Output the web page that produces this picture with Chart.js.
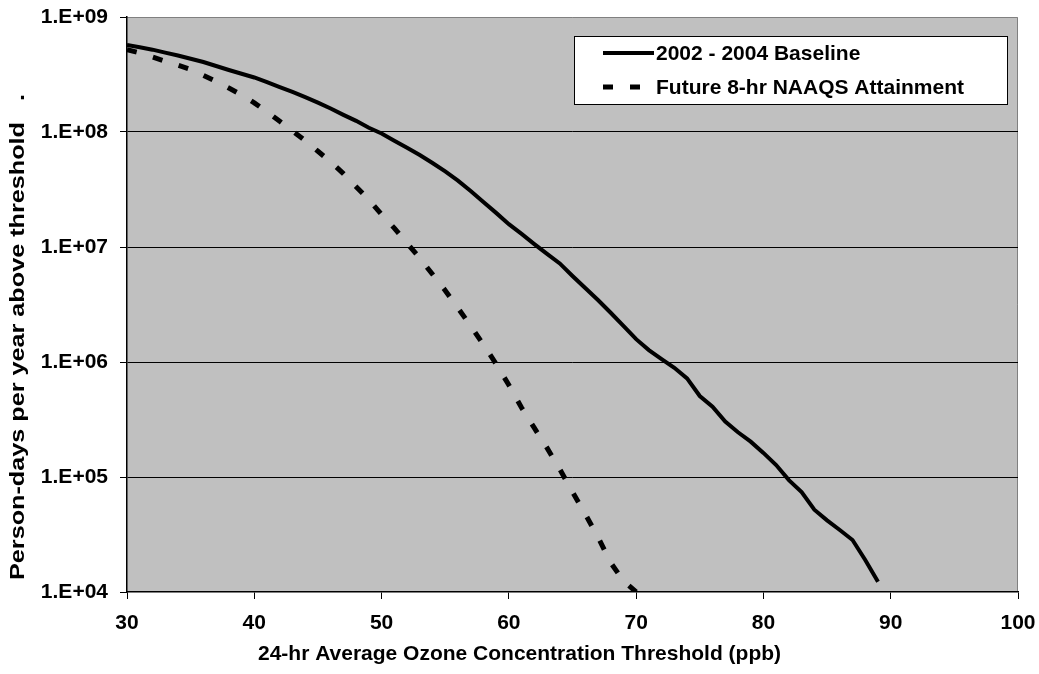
<!DOCTYPE html>
<html>
<head>
<meta charset="utf-8">
<script src="https://cdn.jsdelivr.net/npm/chart.js@4.4.1/dist/chart.umd.min.js"></script>
<style>
  html, body { margin: 0; padding: 0; background: #ffffff; }
  #wrap { width: 1039px; height: 674px; position: relative; }
</style>
</head>
<body>
<div id="wrap"><canvas id="chart" width="1039" height="674"></canvas></div>
<script>
// Threshold (ppb) and person-days per year above that threshold
const baselineThresholds = [30,31,32,33,34,35,36,37,38,39,40,41,42,43,44,45,46,47,48,49,
  50,51,52,53,54,55,56,57,58,59,60,61,62,63,64,65,66,67,68,69,
  70,71,72,73,74,75,76,77,78,79,80,81,82,83,84,85,86,87,88,89];
const baselineValues = [5.7e8,5.45e8,5.2e8,4.9e8,4.63e8,4.33e8,4.06e8,3.75e8,3.46e8,3.21e8,
  2.98e8,2.72e8,2.46e8,2.23e8,2.01e8,1.8e8,1.6e8,1.41e8,1.25e8,1.09e8,
  9.7e7,8.4e7,7.3e7,6.3e7,5.37e7,4.54e7,3.78e7,3.07e7,2.46e7,1.98e7,
  1.58e7,1.3e7,1.06e7,8.7e6,7.2e6,5.6e6,4.4e6,3.46e6,2.68e6,2.06e6,
  1.58e6,1.27e6,1.06e6,8.9e5,7.2e5,5.06e5,4.08e5,3.03e5,2.45e5,2.03e5,
  1.62e5,1.27e5,9.4e4,7.4e4,5.2e4,4.2e4,3.46e4,2.83e4,1.9e4,1.23e4];

const futureThresholds = [30,31,32,33,34,35,36,37,38,39,40,41,42,43,44,45,46,47,48,49,
  50,51,52,53,54,55,56,57,58,59,60,61,62,63,64,65,66,67,68,69,70];
const futureValues = [5.2e8,4.87e8,4.49e8,4.13e8,3.81e8,3.5e8,3.1e8,2.75e8,2.41e8,2.1e8,
  1.79e8,1.5e8,1.24e8,1.02e8,8.4e7,6.8e7,5.5e7,4.35e7,3.34e7,2.58e7,
  1.92e7,1.46e7,1.08e7,8.0e6,5.8e6,4.19e6,2.95e6,2.06e6,1.42e6,9.6e5,
  6.3e5,4.0e5,2.67e5,1.79e5,1.17e5,7.4e4,4.77e4,3.0e4,1.8e4,1.25e4,1.0e4];

const seriesLabels = ['2002 - 2004 Baseline', 'Future 8-hr NAAQS Attainment'];
const xTickValues = [30,40,50,60,70,80,90,100];
const yTickValues = [1e4,1e5,1e6,1e7,1e8,1e9];
const xAxisTitle = '24-hr Average Ozone Concentration Threshold (ppb)';
const yAxisTitle = 'Person-days per year above threshold   .';

const FONT_FAMILY = '"Liberation Sans", Arial, Helvetica, sans-serif';

function toPoints(xs, ys) {
  return xs.map((x, i) => ({ x: x, y: ys[i] }));
}

function sciLabel(v) {
  const e = Math.round(Math.log10(v));
  return '1.E' + (e >= 0 ? '+' : '-') + String(Math.abs(e)).padStart(2, '0');
}

// Gray plot panel with a thin frame on its top and right edges
const plotPanel = {
  id: 'plotPanel',
  beforeDraw(chart) {
    const { ctx, chartArea: a } = chart;
    ctx.save();
    ctx.fillStyle = '#C0C0C0';
    ctx.fillRect(a.left, a.top, a.right - a.left, a.bottom - a.top);
    ctx.strokeStyle = '#808080';
    ctx.lineWidth = 1;
    ctx.beginPath();
    ctx.moveTo(a.left, a.top + 0.5);
    ctx.lineTo(a.right - 0.5, a.top + 0.5);
    ctx.lineTo(a.right - 0.5, a.bottom);
    ctx.stroke();
    ctx.restore();
  }
};

// Axis titles centred on the canvas
const axisTitles = {
  id: 'axisTitles',
  afterDraw(chart) {
    const { ctx, width, height } = chart;
    ctx.save();
    ctx.fillStyle = '#000';
    ctx.font = 'bold 21px ' + FONT_FAMILY;
    ctx.textAlign = 'center';
    ctx.textBaseline = 'middle';
    ctx.fillText(xAxisTitle, width / 2, 654);
    ctx.translate(18, height / 2);
    ctx.rotate(-Math.PI / 2);
    ctx.scale(1.2, 1);
    ctx.fillText(yAxisTitle, 0, 0);
    ctx.restore();
  }
};

// Boxed legend inside the upper right of the plot
const boxLegend = {
  id: 'boxLegend',
  afterDraw(chart) {
    const { ctx } = chart;
    const box = { x: 574, y: 36, w: 433, h: 68 };
    ctx.save();
    ctx.fillStyle = '#ffffff';
    ctx.fillRect(box.x, box.y, box.w, box.h);
    ctx.strokeStyle = '#000';
    ctx.lineWidth = 1;
    ctx.strokeRect(box.x + 0.5, box.y + 0.5, box.w, box.h);
    ctx.font = 'bold 21px ' + FONT_FAMILY;
    ctx.textBaseline = 'middle';
    ctx.textAlign = 'left';
    const rows = [53, 87];
    chart.data.datasets.forEach((ds, i) => {
      const y = rows[i];
      ctx.strokeStyle = ds.borderColor;
      ctx.lineWidth = ds.borderWidth;
      ctx.setLineDash(ds.borderDash || []);
      ctx.lineCap = 'butt';
      ctx.beginPath();
      ctx.moveTo(603, y);
      ctx.lineTo(654, y);
      ctx.stroke();
      ctx.setLineDash([]);
      ctx.fillStyle = '#000';
      ctx.fillText(ds.label, 656, y + 1);
    });
    ctx.restore();
  }
};

const tickFont = { family: FONT_FAMILY, size: 21, weight: 'bold' };

new Chart(document.getElementById('chart'), {
  type: 'line',
  data: {
    datasets: [
      {
        label: seriesLabels[0],
        data: toPoints(baselineThresholds, baselineValues),
        borderColor: '#000000',
        borderWidth: 4,
        pointRadius: 0,
        tension: 0,
        fill: false
      },
      {
        label: seriesLabels[1],
        data: toPoints(futureThresholds, futureValues),
        borderColor: '#000000',
        borderWidth: 5,
        borderDash: [10, 17],
        borderCapStyle: 'butt',
        pointRadius: 0,
        tension: 0,
        fill: false
      }
    ]
  },
  options: {
    responsive: false,
    animation: false,
    devicePixelRatio: 1,
    layout: { padding: { top: 17, right: 21, left: 0, bottom: 0 } },
    plugins: {
      legend: { display: false },
      tooltip: { enabled: false },
      title: { display: false }
    },
    scales: {
      x: {
        type: 'linear',
        min: 30,
        max: 100,
        afterBuildTicks(scale) { scale.ticks = xTickValues.map(v => ({ value: v })); },
        afterFit(scale) {
          scale.height = 82;
          scale.paddingLeft = 0;
          scale.paddingRight = 0;
        },
        ticks: { font: tickFont, color: '#000', padding: 12, maxRotation: 0, autoSkip: false },
        grid: { drawOnChartArea: false, drawTicks: true, tickLength: 7, tickColor: '#000', color: '#000' },
        border: { display: true, color: '#000', width: 1.5 }
      },
      y: {
        type: 'logarithmic',
        min: 1e4,
        max: 1e9,
        afterBuildTicks(scale) { scale.ticks = yTickValues.map(v => ({ value: v })); },
        afterFit(scale) {
          scale.width = 127;
          scale.paddingTop = 0;
          scale.paddingBottom = 0;
        },
        ticks: { font: tickFont, color: '#000', padding: 12, callback: v => sciLabel(v), autoSkip: false },
        grid: {
          drawTicks: true,
          tickLength: 7,
          tickColor: '#000',
          lineWidth: 1,
          color: ctx => (ctx.tick && ctx.tick.value > 1e4 && ctx.tick.value < 1e9) ? '#000' : 'rgba(0,0,0,0)'
        },
        border: { display: true, color: '#000', width: 1.5 }
      }
    }
  },
  plugins: [plotPanel, axisTitles, boxLegend]
});
</script>
</body>
</html>
